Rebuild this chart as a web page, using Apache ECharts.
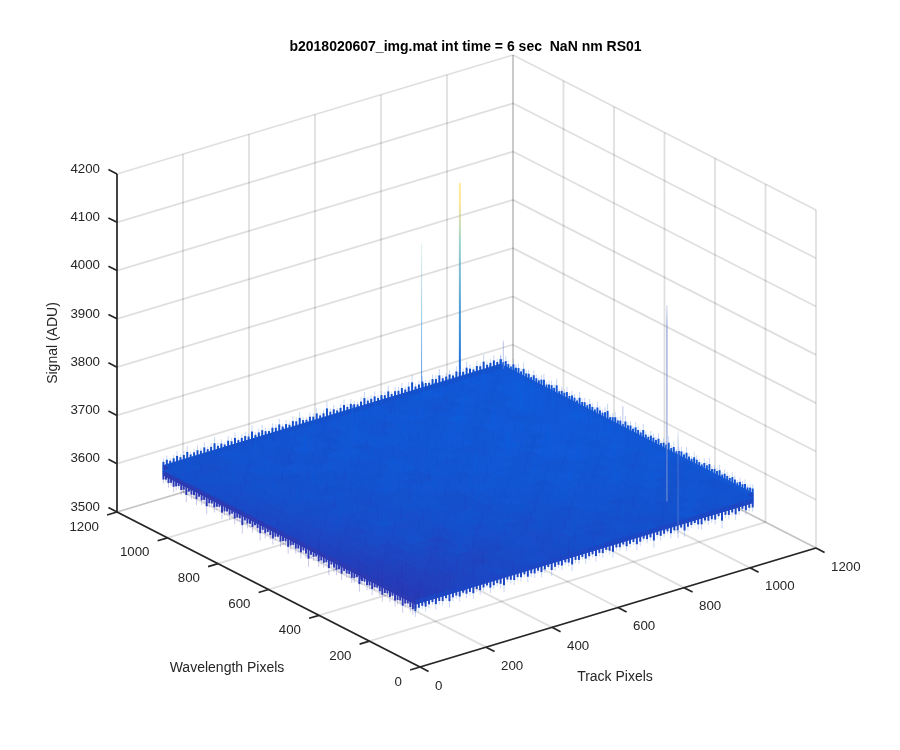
<!DOCTYPE html>
<html><head><meta charset="utf-8">
<style>html,body{margin:0;padding:0;background:#fff}#c{width:900px;height:750px}</style>
<script src="https://cdn.jsdelivr.net/npm/echarts@6/dist/echarts.min.js"></script>
</head><body><div id="c"></div>
<script>
const titleText = 'b2018020607_img.mat int time = 6 sec  NaN nm RS01';
const trackTicks = [0,200,400,600,800,1000,1200];
const waveTicks = [0,200,400,600,800,1000,1200];
const signalTicks = [3500,3600,3700,3800,3900,4000,4100,4200];
const trackExtent = [6,1028];
const waveExtent = [26,1024];
const signalBase = 3600;
// estimated signal minus signalBase; rows = wavelength samples, columns = track samples
const signalGrid = [
[22,26,24,29,27,31,28,33,30,34,31,29,35,32,36,33,30,37,34,32,38,35,33,37,34,36],
[24,21,27,25,30,26,33,29,27,35,30,34,28,36,31,33,38,32,35,30,36,39,33,35,38,34],
[20,26,23,28,24,32,27,30,34,28,33,29,37,31,35,29,34,36,31,38,33,35,40,34,36,37],
[25,22,28,24,31,27,29,25,33,30,36,32,28,34,38,32,36,30,39,34,37,32,36,41,35,33],
[21,27,23,30,26,28,34,29,31,27,35,30,37,33,29,39,33,37,35,31,40,36,34,38,33,39],
[26,23,29,25,32,27,30,35,28,36,31,33,29,38,34,31,36,40,32,37,34,39,35,32,41,36],
[23,28,24,31,28,33,26,31,36,29,34,38,32,30,37,35,33,38,36,41,33,37,42,36,34,38],
[27,24,30,26,29,35,31,28,33,37,30,35,33,39,31,36,40,34,37,33,42,35,38,40,37,35],
[24,29,26,33,28,31,37,32,30,35,39,31,36,34,38,33,37,41,35,39,36,43,34,38,42,36],
[28,25,31,27,35,30,33,29,38,32,34,37,30,40,35,39,32,38,42,36,34,40,37,35,39,43],
[25,30,27,32,29,36,31,34,30,37,33,29,39,35,33,41,37,35,39,44,37,35,42,38,36,40],
[29,26,33,28,31,34,38,30,36,32,39,35,33,37,42,34,38,43,36,33,41,38,36,44,40,37],
[26,31,28,35,30,33,29,37,33,40,34,31,38,41,35,39,36,33,42,38,36,44,39,37,41,38],
[30,27,32,29,36,31,38,33,35,31,37,42,35,33,39,36,43,38,35,41,45,37,40,36,43,39],
[27,33,29,34,31,37,32,29,39,34,36,33,40,37,34,44,36,40,38,35,42,39,37,45,38,41],
[31,28,35,30,33,29,38,35,32,41,37,34,31,43,38,35,40,37,45,39,36,43,41,38,36,44],
[28,32,30,36,32,39,34,31,37,33,40,36,42,35,33,41,37,34,39,44,38,35,42,40,46,37],
[32,29,34,31,38,33,30,40,35,38,32,43,37,34,45,38,36,42,35,40,37,46,39,36,41,43],
[29,34,31,37,30,35,41,33,31,39,36,34,40,38,32,37,44,39,36,43,41,38,35,44,39,36],
[33,30,36,32,39,34,31,37,42,35,33,41,31,36,43,39,35,41,38,34,45,37,42,39,37,45],
[30,35,29,38,33,31,40,36,33,38,43,34,39,42,35,33,40,37,44,39,36,41,38,46,40,37],
[34,31,37,30,35,42,33,38,35,32,40,37,33,41,38,44,36,34,39,43,35,40,37,42,38,44],
[31,36,33,39,32,37,34,31,41,36,33,39,44,35,32,40,38,42,35,37,44,39,36,41,45,38],
[35,32,34,31,38,33,40,35,33,43,37,34,36,41,39,34,43,36,40,33,38,42,40,37,39,43],
[32,37,30,36,34,41,31,38,36,34,40,32,42,37,35,44,33,38,41,36,43,35,39,44,36,41],
[36,33,38,32,35,37,34,42,31,39,35,41,34,38,43,36,40,35,37,44,39,37,42,38,41,37]
];
// fringe heights (ADU) along the four outer edges of the surface
const fringeBackLeft = [24,31,18,27,36,21,29,42,19,26,33,23,38,20,28,45,22,30,17,35,25,40,19,27,32,22,48,20,29,37,24,18,33,26,41,21,30,19,36,28,44,23,18,31,25,39,20,27,52,24,33,19,29,41,22,35,26,18,30,46,23,28,37,20,32,25,43,19,31,27,38,22,34,55,21,28,40,24,19,36,30,47,22,26,33,20,39,28,24,44,31,19,35,27,50,23,29,38,21,33];
const fringeBackRight = [30,22,37,26,19,41,28,34,21,46,25,31,18,38,27,22,35,43,20,29,33,24,49,19,30,26,39,22,34,28,18,44,25,32,21,37,27,19,40,30,23,35,52,20,28,36,24,31,18,42,26,33,21,38,29,22,46,25,19,35,30,24,40,20,32,27,48,22,37,18,29,34,23,42,26,20,38,31,24,17,35,28,44,21,30,25,39,19,33,27,22,36,29,18,31,24,34,20,27,30];
const fringeFrontLeft = [28,20,34,24,41,30,19,37,26,52,22,33,28,45,21,36,25,58,30,23,39,27,19,48,32,24,36,21,43,29,26,62,23,35,28,40,20,31,55,25,38,22,34,46,27,19,41,30,24,50,33,21,37,28,44,23,35,60,26,31,20,42,29,36,24,53,22,33,39,27,47,21,30,25,40,34,19,56,28,23,37,31,45,26,20,35,49,29,24,38,22,44,33,27,52,30,21,36,41,30];
const fringeFrontRight = [44,30,24,36,28,20,40,26,33,21,47,29,24,37,19,32,27,42,22,35,25,18,39,30,23,34,50,20,28,36,24,31,19,41,26,33,22,38,27,18,44,30,24,35,21,29,48,25,32,19,37,28,22,40,26,34,20,31,45,24,29,18,36,27,22,43,33,20,30,25,52,23,35,28,19,38,26,31,21,47,29,24,18,34,40,22,30,27,36,20,56,25,32,23,42,28,19,35,26,30];
// isolated hot pixels: track, wavelength, visible low signal, peak signal, relative weight
const hiddenBaseSpikes = [[886,1000,3640,4053,2],[770,1000,3640,3952,1]];
const surfaceSpikes = [[837,116,3640,4047,1.2],[828,60,3581,3804,1],[1024,535,3645,3688,1],[1010,990,3645,3705,1]];
const colorStops = [[3590,'#352a87'],[3620,'#2a34b0'],[3628,'#1e44c2'],[3634,'#1450cc'],[3646,'#0c60e2'],[3720,'#1876d4'],[3840,'#2f92c8'],[3950,'#6cc0a8'],[4000,'#fec832'],[4150,'#f9e721']];

const trackUnit = [396/1200,-119/1200], waveUnit=[-303/1200,-155/1200], signalUnit=-338/700;
const origin=[420,667];
function project(t,w,s){return [origin[0]+t*trackUnit[0]+w*waveUnit[0], origin[1]+t*trackUnit[1]+w*waveUnit[1]+(s-3500)*signalUnit];}
function hex(c){return [1,3,5].map(i=>parseInt(c.substr(i,2),16));}
function signalColor(s,alpha){
  let i=0; while(i<colorStops.length-2&&s>colorStops[i+1][0])i++;
  const a=colorStops[i],b=colorStops[i+1],k=Math.max(0,Math.min(1,(s-a[0])/(b[0]-a[0])));
  const A=hex(a[1]),B=hex(b[1]);
  const r=A.map((v,n)=>Math.round(v+(B[n]-v)*k));
  return alpha==null?`rgb(${r})`:`rgba(${r},${alpha})`;
}
const nRows=signalGrid.length,nCols=signalGrid[0].length;
const tOf=j=>trackExtent[0]+(trackExtent[1]-trackExtent[0])*j/(nCols-1);
const wOf=i=>waveExtent[0]+(waveExtent[1]-waveExtent[0])*i/(nRows-1);
const sOf=(i,j)=>signalBase+signalGrid[i][j];

function segSeries(name,items){
  return {type:'custom',name,silent:true,animation:false,clip:false,coordinateSystem:'cartesian2d',
    data:items.map(it=>{const p=project(...it.a);return [p[0],p[1]];}),
    renderItem(params,api){
      const it=items[params.dataIndex],p=api.coord(project(...it.a)),q=api.coord(project(...it.b));
      return {type:'line',shape:{x1:p[0],y1:p[1],x2:q[0],y2:q[1]},style:{stroke:it.stroke,lineWidth:it.width}};
    }};
}
function polySeries(name,items){
  return {type:'custom',name,silent:true,animation:false,clip:false,coordinateSystem:'cartesian2d',
    data:items.map(it=>project(...it.pts[0])),
    renderItem(params,api){
      const it=items[params.dataIndex];
      return {type:'polygon',shape:{points:it.pts.map(p=>api.coord(project(...p)))},style:{fill:it.fill,stroke:it.fill,lineWidth:1}};
    }};
}
const labelFont='13.3px "Liberation Sans", Arial, sans-serif', nameFont='14px "Liberation Sans", Arial, sans-serif';
function textSeries(name,items){
  return {type:'custom',name,silent:true,animation:false,clip:false,coordinateSystem:'cartesian2d',
    data:items.map(it=>project(...it.at)),
    renderItem(params,api){
      const it=items[params.dataIndex],p=api.coord(project(...it.at));
      return {type:'text',x:p[0]+it.dx,y:p[1]+it.dy,style:{text:it.text,fill:'#262626',font:labelFont,align:it.align,verticalAlign:'middle'}};
    }};
}
const tMax=1200,wMax=1200,sMin=3500,sMax=4200;
const gridItems=[];
trackTicks.forEach(t=>{
  gridItems.push({a:[t,wMax,sMin],b:[t,wMax,sMax]});
  gridItems.push({a:[t,0,sMin],b:[t,wMax,sMin]});
});
waveTicks.forEach(w=>{
  gridItems.push({a:[tMax,w,sMin],b:[tMax,w,sMax]});
  gridItems.push({a:[0,w,sMin],b:[tMax,w,sMin]});
});
signalTicks.forEach(s=>{
  gridItems.push({a:[0,wMax,s],b:[tMax,wMax,s]});
  gridItems.push({a:[tMax,0,s],b:[tMax,wMax,s]});
});
gridItems.forEach(g=>{g.stroke='rgba(0,0,0,0.125)';g.width=1.8;});

function spikeItems(list){
  return list.map(sp=>{
    const [t,w,lo,hi,wgt]=sp,stops=[];
    [0,.1,.2,.3,.4,.6,.8,1].forEach(o=>{const s=hi-(hi-lo)*o;stops.push({offset:o,color:signalColor(s,wgt>1.3?0.45+0.55*o:0.22+0.5*o)});});
    return {a:[t,w,lo],b:[t,w,hi],width:wgt,stroke:new echarts.graphic.LinearGradient(0,0,0,1,stops)};
  });
}
function paleSpikeItems(list){
  return list.map(sp=>{
    const [t,w,lo,hi,wgt]=sp,a=wgt>1?0.8:0.5;
    return {a:[t,w,lo],b:[t,w,hi],width:wgt,stroke:new echarts.graphic.LinearGradient(0,0,0,1,[
      {offset:0,color:`rgba(120,140,210,${a*0.3})`},{offset:.12,color:`rgba(115,135,205,${a})`},{offset:1,color:`rgba(125,150,210,${a})`}])};
  });
}
const bandHalf=10;
function fringeItems(values,from,to,dir,solid,soft){
  const out=[];
  values.forEach((h,k)=>{
    const f=k/(values.length-1),t=from[0]+(to[0]-from[0])*f,w=from[1]+(to[1]-from[1])*f,s=from[2];
    out.push({a:[t,w,s],b:[t,w,s+dir*(bandHalf+h*0.6)],stroke:soft,width:1});
    out.push({a:[t,w,s],b:[t,w,s+dir*(bandHalf+h*0.32)],stroke:solid,width:2});
  });
  return out;
}
const s0=3632,T0=trackExtent[0],T1=trackExtent[1],W0=waveExtent[0],W1=waveExtent[1];
const softBlue='rgba(70,115,225,0.3)',softPurple='rgba(75,75,190,0.3)';
const backFringes=[...fringeItems(fringeBackLeft,[T0,W1,s0],[T1,W1,s0],1,'#1450cc',softBlue),
                   ...fringeItems(fringeBackRight,[T1,W1,s0],[T1,W0,s0],1,'#1256d4',softBlue)];
const frontFringes=[...fringeItems(fringeFrontLeft,[T0,W1,s0],[T0,W0,s0],-1,'#2c3ab4',softPurple),
                    ...fringeItems(fringeFrontRight,[T0,W0,s0],[T1,W0,s0],-1,'#1c46c4',softBlue)];
const bandItems=[
  {pts:[[T0,W1,s0+bandHalf],[T1,W1,s0+bandHalf],[T1,W1,s0-bandHalf],[T0,W1,s0-bandHalf]],fill:'#1450cc'},
  {pts:[[T1,W1,s0+bandHalf],[T1,W0,s0+bandHalf],[T1,W0,s0-bandHalf],[T1,W1,s0-bandHalf]],fill:'#1256d4'},
  {pts:[[T0,W1,s0+bandHalf],[T0,W0,s0+bandHalf],[T0,W0,s0-bandHalf],[T0,W1,s0-bandHalf]],fill:'#2c3ab4'},
  {pts:[[T0,W0,s0+bandHalf],[T1,W0,s0+bandHalf],[T1,W0,s0-bandHalf],[T0,W0,s0-bandHalf]],fill:'#1c46c4'}
];
const meshItems=[];
for(let i=0;i<nRows-1;i++)for(let j=0;j<nCols-1;j++){
  const m=(sOf(i,j)+sOf(i+1,j)+sOf(i,j+1)+sOf(i+1,j+1))/4;
  meshItems.push({pts:[[tOf(j),wOf(i),s0],[tOf(j+1),wOf(i),s0],[tOf(j+1),wOf(i+1),s0],[tOf(j),wOf(i+1),s0]],fill:signalColor(m)});
}
const streaks=[];
const clampTo=(v,r)=>Math.max(r[0],Math.min(r[1],v));
for(let i=0;i<nRows;i++)for(let j=0;j<nCols;j++){
  const s=sOf(i,j),v=signalGrid[i][j],next=signalGrid[(i+1)%nRows][(j+1)%nCols];
  const t=clampTo(tOf(j)+(next-33)*2.2,trackExtent),w=clampTo(wOf(i)+(v-33)*2.2,waveExtent);
  const half=7+Math.abs(v-33);
  streaks.push({a:[t,w,s0-half],b:[t,w,s0+half],stroke:signalColor(s,0.75),width:1});
}
const axisItems=[
  {a:[0,wMax,sMin],b:[0,wMax,sMax]},{a:[0,0,sMin],b:[0,wMax,sMin]},{a:[0,0,sMin],b:[tMax,0,sMin]}
];
signalTicks.forEach(s=>axisItems.push({a:[0,wMax,s],b:[0,wMax+34,s]}));
waveTicks.forEach(w=>axisItems.push({a:[0,w,sMin],b:[-30,w,sMin]}));
trackTicks.forEach(t=>axisItems.push({a:[t,0,sMin],b:[t,-34,sMin]}));
axisItems.forEach(a=>{a.stroke='#262626';a.width=1.7;});
const labels=[];
trackTicks.forEach(t=>labels.push({at:[t,0,sMin],dx:15,dy:19,text:String(t),align:'left'}));
waveTicks.forEach(w=>labels.push({at:[0,w,sMin],dx:-18,dy:15,text:String(w),align:'right'}));
signalTicks.forEach(s=>labels.push({at:[0,wMax,s],dx:-17,dy:-5,text:String(s),align:'right'}));

const chart=echarts.init(document.getElementById('c'),null,{renderer:'canvas',width:900,height:750});
chart.setOption({
  backgroundColor:'#fff',animation:false,
  title:{text:titleText,left:460.5,top:35,textAlign:'center',textStyle:{fontSize:14,fontWeight:'bold',color:'#000',fontFamily:'"Liberation Sans", Arial, sans-serif'}},
  grid:{left:0,right:0,top:0,bottom:0},
  xAxis:{type:'value',min:0,max:900,show:false},
  yAxis:{type:'value',min:0,max:750,inverse:true,show:false},
  graphic:[
    {type:'text',x:53,y:343,rotation:Math.PI/2,style:{text:'Signal (ADU)',fill:'#262626',font:nameFont,align:'center',verticalAlign:'middle'}},
    {type:'text',x:227,y:668,style:{text:'Wavelength Pixels',fill:'#262626',font:nameFont,align:'center',verticalAlign:'middle'}},
    {type:'text',x:615,y:677,style:{text:'Track Pixels',fill:'#262626',font:nameFont,align:'center',verticalAlign:'middle'}}
  ],
  series:[
    segSeries('walls',gridItems),
    segSeries('spikes behind',spikeItems(hiddenBaseSpikes)),
    segSeries('back fringe',backFringes),
    segSeries('front fringe',frontFringes),
    polySeries('edges',bandItems),
    polySeries('surface',meshItems),
    segSeries('surface streaks',streaks),
    segSeries('spikes front',paleSpikeItems(surfaceSpikes)),
    segSeries('axes',axisItems),
    textSeries('tick labels',labels)
  ]
});
</script></body></html>
